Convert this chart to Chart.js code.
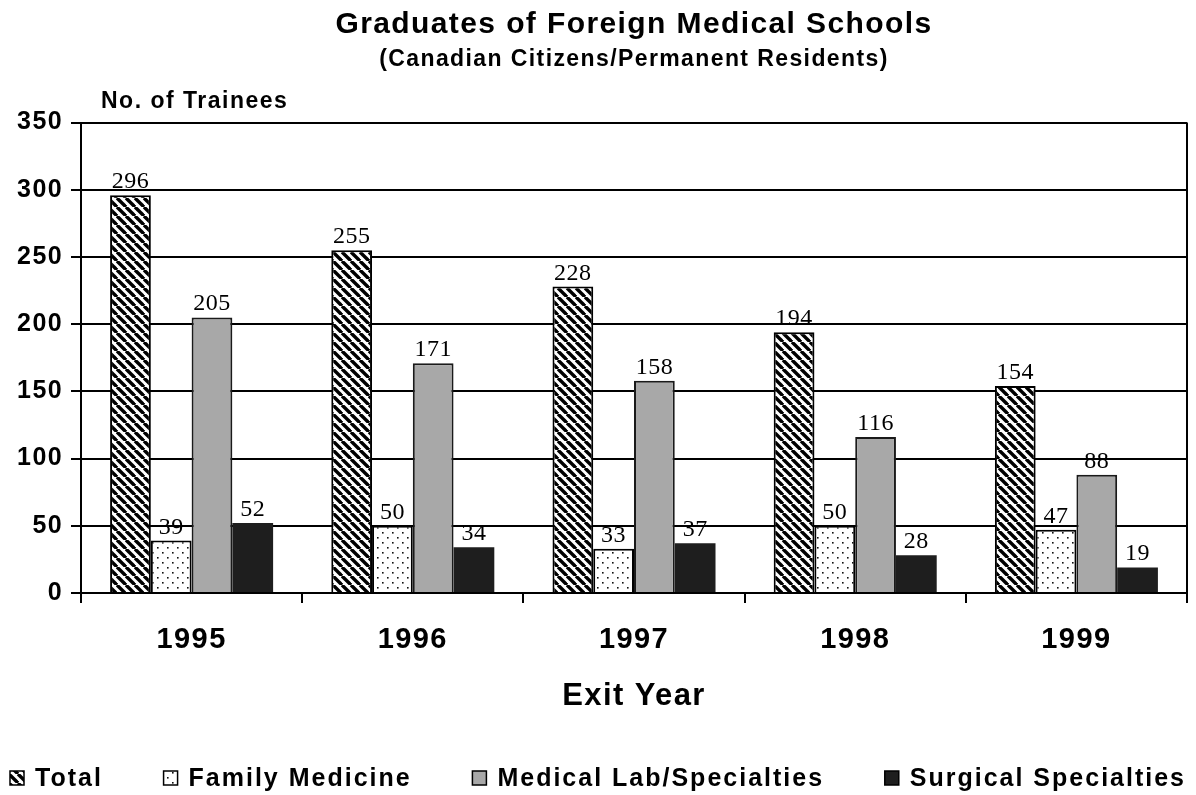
<!DOCTYPE html>
<html>
<head>
<meta charset="utf-8">
<script src="https://cdn.jsdelivr.net/npm/chart.js@4.4.0/dist/chart.umd.min.js"></script>
<style>
  html, body { margin: 0; padding: 0; background: #fff; }
  #wrap { width: 1196px; height: 795px; }
</style>
</head>
<body>
<div id="wrap"><canvas id="chart" width="1196" height="795"></canvas></div>
<script>
// données
const years = ['1995', '1996', '1997', '1998', '1999'];
const seriesNames = ['Total', 'Family Medicine', 'Medical Lab/Specialties', 'Surgical Specialties'];
const totalValues = [296, 255, 228, 194, 154];
const familyValues = [39, 50, 33, 50, 47];
const medicalValues = [205, 171, 158, 116, 88];
const surgicalValues = [52, 34, 37, 28, 19];
const yTicks = [0, 50, 100, 150, 200, 250, 300, 350];

const SANS = '"Liberation Sans", Arial, sans-serif';

// motifs de remplissage
function makePattern(size, paint) {
  const c = document.createElement('canvas');
  c.width = size;
  c.height = size;
  const g = c.getContext('2d');
  paint(g, size);
  return g.createPattern(c, 'repeat');
}

const stripes = makePattern(9, (g, s) => {
  g.fillStyle = '#fff';
  g.fillRect(0, 0, s, s);
  g.strokeStyle = '#000';
  g.lineWidth = 3.4;
  for (const k of [-s, 0, s]) {
    g.beginPath();
    g.moveTo(k, 0);
    g.lineTo(k + s, s);
    g.stroke();
  }
});

const dots = makePattern(10, (g, s) => {
  g.fillStyle = '#fff';
  g.fillRect(0, 0, s, s);
  g.fillStyle = '#111';
  g.fillRect(2, 2, 1.6, 1.6);
  g.fillRect(7, 7, 1.6, 1.6);
});

// texte général : léger espacement des lettres comme sur l'original
const spacing = {
  id: 'spacing',
  beforeDraw(chart) {
    chart.ctx.letterSpacing = '1.4px';
  }
};

// valeurs au-dessus des barres, titre de l'axe Y, bordure droite, légende
const extras = {
  id: 'extras',
  afterDatasetsDraw(chart) {
    const ctx = chart.ctx;
    ctx.save();
    ctx.letterSpacing = '0.5px';
    ctx.font = '24px "Liberation Serif", "Times New Roman", serif';
    ctx.fillStyle = '#000';
    ctx.textAlign = 'center';
    ctx.textBaseline = 'alphabetic';
    chart.data.datasets.forEach((ds, i) => {
      chart.getDatasetMeta(i).data.forEach((bar, j) => {
        ctx.fillText(String(ds.data[j]), bar.x, bar.y - 7);
      });
    });
    ctx.restore();
  },
  afterDraw(chart) {
    const ctx = chart.ctx;
    const area = chart.chartArea;
    ctx.save();

    // bordure droite
    ctx.strokeStyle = '#000';
    ctx.lineWidth = 2;
    ctx.beginPath();
    ctx.moveTo(area.right, area.top);
    ctx.lineTo(area.right, area.bottom + 10);
    ctx.stroke();

    // titre de l'axe Y
    ctx.fillStyle = '#000';
    ctx.letterSpacing = '1.5px';
    ctx.font = 'bold 23px ' + SANS;
    ctx.textAlign = 'left';
    ctx.textBaseline = 'middle';
    ctx.fillText('No. of Trainees', 101, 102);

    // légende
    ctx.letterSpacing = '2px';
    ctx.font = 'bold 25px ' + SANS;
    const y = 778;
    const box = 14;
    const gapText = 11;
    const left = 10, right = 1186;
    const widths = chart.data.datasets.map(ds => box + gapText + ctx.measureText(ds.label).width);
    const used = widths.reduce((a, b) => a + b, 0);
    const gap = (right - left - used) / (widths.length - 1);
    let x = left;
    chart.data.datasets.forEach((ds, i) => {
      ctx.fillStyle = ds.backgroundColor;
      ctx.fillRect(x, y - box / 2, box, box);
      ctx.strokeStyle = '#000';
      ctx.lineWidth = 1.5;
      ctx.strokeRect(x, y - box / 2, box, box);
      ctx.fillStyle = '#000';
      ctx.fillText(ds.label, x + box + gapText, y + 1);
      x += widths[i] + gap;
    });
    ctx.restore();
  }
};

new Chart(document.getElementById('chart'), {
  type: 'bar',
  data: {
    labels: years,
    datasets: [
      { label: seriesNames[0], data: totalValues, backgroundColor: stripes, borderColor: '#000', borderWidth: 2 },
      { label: seriesNames[1], data: familyValues, backgroundColor: dots, borderColor: '#000', borderWidth: 2 },
      { label: seriesNames[2], data: medicalValues, backgroundColor: '#a8a8a8', borderColor: '#1a1a1a', borderWidth: 2 },
      { label: seriesNames[3], data: surgicalValues, backgroundColor: '#1e1e1e', borderWidth: 0 }
    ]
  },
  options: {
    responsive: false,
    animation: false,
    layout: { padding: { top: 0, right: 9, bottom: 80, left: 0 } },
    datasets: { bar: { categoryPercentage: 0.737, barPercentage: 1 } },
    plugins: {
      legend: { display: false },
      tooltip: { enabled: false },
      title: {
        display: true,
        fullSize: false,
        text: 'Graduates of Foreign Medical Schools',
        color: '#000',
        font: { family: SANS, size: 30, weight: 'bold' },
        padding: { top: 7, bottom: 2 }
      },
      subtitle: {
        display: true,
        fullSize: false,
        text: '(Canadian Citizens/Permanent Residents)',
        color: '#000',
        font: { family: SANS, size: 23, weight: 'bold' },
        padding: { top: 1, bottom: 49 }
      }
    },
    scales: {
      y: {
        min: 0,
        max: 350,
        afterFit(s) { s.width = 81; },
        afterBuildTicks(s) { s.ticks = yTicks.map(v => ({ value: v })); },
        ticks: { color: '#000', font: { family: SANS, size: 25, weight: 'bold' }, padding: 8 },
        grid: { color: '#000', lineWidth: 2, tickLength: 10 },
        border: { color: '#000', width: 2 }
      },
      x: {
        afterFit(s) { s.height = 122; },
        ticks: { color: '#000', font: { family: SANS, size: 29, weight: 'bold' }, padding: 20 },
        grid: { display: true, drawOnChartArea: false, offset: true, color: '#000', lineWidth: 2, tickLength: 10 },
        border: { color: '#000', width: 2 },
        title: {
          display: true,
          text: 'Exit Year',
          color: '#000',
          font: { family: SANS, size: 31, weight: 'bold' },
          padding: { top: 0, bottom: 0 }
        }
      }
    }
  },
  plugins: [spacing, extras]
});
</script>
</body>
</html>
